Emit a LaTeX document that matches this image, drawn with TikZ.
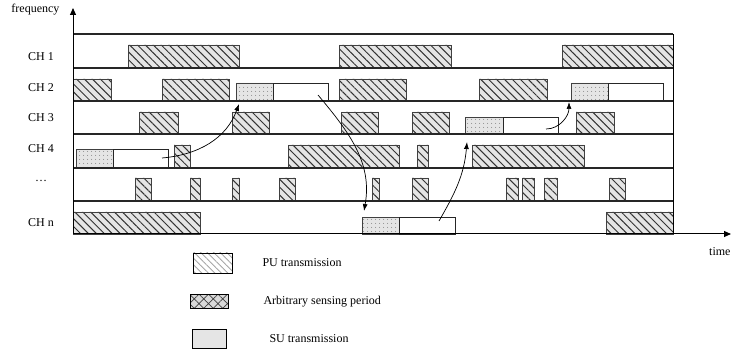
\documentclass[tikz,border=0pt]{standalone}
\usepackage{fontspec}
\setmainfont{Liberation Serif}
\usetikzlibrary{patterns.meta,arrows.meta}

\tikzset{
  pubar/.style={draw=black!75, line width=0.8pt, preaction={fill=black!10},
    pattern={Lines[angle=-45,distance=5.6pt,line width=1pt]}, pattern color=black!80},
  sensebar/.style={draw=black!75, line width=0.8pt, preaction={fill=black!10},
    pattern={Dots[distance=4pt,radius=0.5pt]}, pattern color=black!70},
  subar/.style={draw=black!85, line width=0.8pt, fill=white},
  chline/.style={line width=1.2pt, black!85},
  hop/.style={-{Latex[length=7pt,width=5pt]}, line width=0.7pt},
  lbl/.style={font=\fontsize{12}{14}\selectfont},
}

\begin{document}
\begin{tikzpicture}[x=1pt,y=1pt]
  \useasboundingbox (0,0) rectangle (731,351);

  % CH 1
  \draw[pubar] (128,283) rectangle (239,306) (339,283) rectangle (451,306) (562,283) rectangle (673,306);
  % CH 2
  \draw[pubar] (73,250) rectangle (111,272) (162,250) rectangle (229,272) (339,250) rectangle (406,272) (479,250) rectangle (547,272);
  \draw[sensebar] (236,250) rectangle (273,268) (571,250) rectangle (608,268);
  \draw[subar] (273,250) rectangle (328,268) (608,250) rectangle (663,268);
  % CH 3
  \draw[pubar] (139,217) rectangle (178,239) (232,217) rectangle (269,239) (341,217) rectangle (378,239) (412,217) rectangle (449,239) (576,217) rectangle (614,239);
  \draw[sensebar] (465,217) rectangle (503,234);
  \draw[subar] (503,217) rectangle (558,234);
  % CH 4
  \draw[pubar] (174,183) rectangle (190,206) (288,183) rectangle (399,206) (417,183) rectangle (428,206) (472,183) rectangle (584,206);
  \draw[sensebar] (76,183) rectangle (113,202);
  \draw[subar] (113,183) rectangle (168,202);
  % ...
  \draw[pubar] (135,150) rectangle (151,173) (190,150) rectangle (200,173) (232,150) rectangle (239,173) (279,150) rectangle (295,173) (372,150) rectangle (379,173)
    (412,150) rectangle (428,173) (506,150) rectangle (518,173) (522,150) rectangle (534,173) (544,150) rectangle (557,173) (609,150) rectangle (625,173);
  % CH n
  \draw[pubar] (73,117) rectangle (200,139) (606,117) rectangle (673,139);
  \draw[sensebar] (362,117) rectangle (399,134);
  \draw[subar] (399,117) rectangle (455,134);

  % channel lines and frame
  \draw[chline] (73,317) -- (673,317);
  \draw[chline] (73,283) -- (673,283);
  \draw[chline] (73,250) -- (673,250);
  \draw[chline] (73,217) -- (673,217);
  \draw[chline] (73,183) -- (673,183);
  \draw[chline] (73,150) -- (673,150);
  \draw[line width=1pt] (673,117) -- (673,317);

  % axes
  \coordinate (origin) at (73,117);
  \coordinate (ftop) at (73,343);
  \coordinate (tend) at (731,117);
  \draw[line width=1pt, -{Triangle[length=7pt,width=6pt]}] (origin) -- (ftop);
  \draw[line width=1pt, -{Triangle[length=7pt,width=6pt]}] (origin) -- (tend);
  \node[lbl, anchor=east] (freq) at (63,341) {frequency};
  \node[lbl, anchor=west, inner sep=0pt] (time) at (709,99) {time};

  \node[lbl] (ch1) at (41,294) {CH 1};
  \node[lbl] (ch2) at (41,263) {CH 2};
  \node[lbl] (ch3) at (41,233) {CH 3};
  \node[lbl] (ch4) at (41,202) {CH 4};
  \node[lbl] (chdots) at (41,170) {\dots};
  \node[lbl] (chn) at (41,128) {CH n};

  % channel hops
  \coordinate (su4) at (162,193);
  \coordinate (sense2) at (239,247);
  \coordinate (su2) at (318,256);
  \coordinate (senseN) at (364,140);
  \coordinate (suN) at (439,130);
  \coordinate (sense3) at (467,209);
  \coordinate (su3) at (546,222);
  \coordinate (sense2b) at (569,249);
  \draw[hop] (su4) to[out=5, in=-110] (sense2);
  \draw[hop] (su2) to[out=-50, in=80] (senseN);
  \draw[hop] (suN) to[out=60, in=-95] (sense3);
  \draw[hop] (su3) to[out=0, in=-90] (sense2b);

  % legend
  \draw[line width=0.8pt, pattern={Lines[angle=-45,distance=4.6pt,line width=0.8pt]}, pattern color=black!35] (193,78) rectangle (232,98);
  \node[lbl, anchor=west] (legpu) at (259,88) {PU transmission};
  \draw[line width=0.8pt, preaction={fill=black!15}, pattern={Hatch[angle=45,distance=6.7pt,line width=0.7pt]}, pattern color=black!75] (190,43) rectangle (228,57);
  \node[lbl, anchor=west] (legsense) at (260,49) {Arbitrary sensing period};
  \draw[line width=0.8pt, fill=black!10] (192,3) rectangle (226,22);
  \node[lbl, anchor=west] (legsu) at (266,12) {SU transmission};
\end{tikzpicture}
\end{document}
